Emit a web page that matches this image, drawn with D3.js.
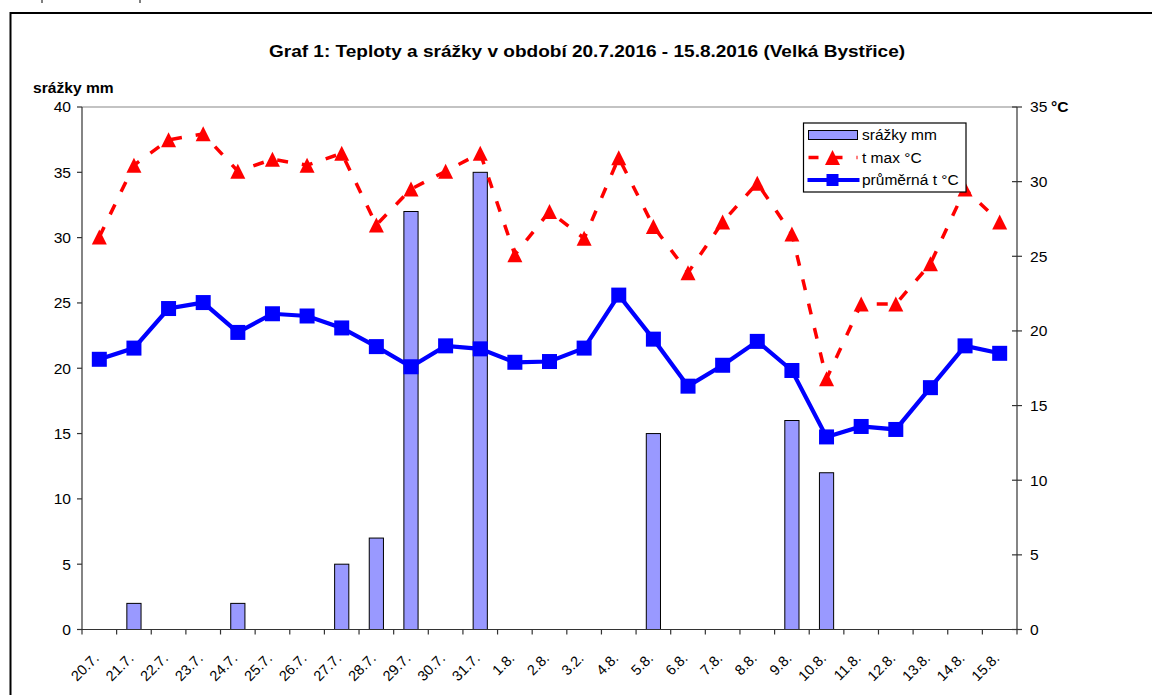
<!DOCTYPE html>
<html>
<head>
<meta charset="utf-8">
<script src="https://cdn.jsdelivr.net/npm/d3@7"></script>
<style>
  body { margin: 0; background: #fff; }
  svg { display: block; font-family: "Liberation Sans", Arial, sans-serif; }
</style>
</head>
<body>
<script>
// data
const days = ["20.7.", "21.7.", "22.7.", "23.7.", "24.7.", "25.7.", "26.7.", "27.7.", "28.7.",
  "29.7.", "30.7.", "31.7.", "1.8.", "2.8.", "3.2.", "4.8.", "5.8.", "6.8.", "7.8.", "8.8.",
  "9.8.", "10.8.", "11.8.", "12.8.", "13.8.", "14.8.", "15.8."];
const srazky = [0, 2, 0, 0, 2, 0, 0, 5, 7, 32, 0, 35, 0, 0, 0, 0, 15, 0, 0, 0, 16, 12, 0, 0, 0, 0, 0];
const tMax = [26.3, 31.1, 32.8, 33.2, 30.7, 31.5, 31.1, 31.9, 27.1, 29.5, 30.7, 31.9, 25.1, 28.0,
  26.2, 31.6, 27.0, 23.9, 27.3, 29.9, 26.5, 16.8, 21.8, 21.8, 24.5, 29.5, 27.3];
const tAvg = [18.1, 18.85, 21.5, 21.9, 19.9, 21.15, 21.0, 20.2, 18.95, 17.6, 19.0, 18.8, 17.9, 17.95,
  18.85, 22.4, 19.45, 16.3, 17.7, 19.3, 17.35, 12.9, 13.6, 13.4, 16.2, 19.0, 18.5];
const leftTicks = [0, 5, 10, 15, 20, 25, 30, 35, 40];
const rightTicks = [0, 5, 10, 15, 20, 25, 30, 35];
const seriesNames = ["srážky mm", "t max °C", "průměrná t °C"];

const width = 1152, height = 695;
const plot = {left: 82, right: 1017, top: 107, bottom: 629.5};
const barFill = "#9999ff", red = "#ff0000", blue = "#0000ff";

const svg = d3.select("body").append("svg")
  .attr("width", width)
  .attr("height", height);

const x = d3.scaleBand().domain(days).range([plot.left, plot.right]);
const yLeft = d3.scaleLinear().domain([0, 40]).range([plot.bottom, plot.top]);
const yRight = d3.scaleLinear().domain([0, 35]).range([plot.bottom, plot.top]);
const cx = d => x(d) + x.bandwidth() / 2;

// text that is a little wider than normal, like the original
function label(g, txt, px, py, opts) {
  const t = g.append("text")
    .attr("transform", `translate(${px},${py}) scale(${opts.sx || 1},1)`)
    .attr("font-size", opts.size)
    .attr("font-weight", opts.bold ? "bold" : null)
    .attr("text-anchor", opts.anchor || "start")
    .attr("dy", opts.dy || null)
    .text(txt);
  return t;
}

// stray marks above the frame (tails of the page text)
svg.append("g").attr("stroke", "#555").attr("stroke-width", 1.5)
  .selectAll("line").data([42, 140]).join("line")
  .attr("x1", d => d).attr("x2", d => d).attr("y1", 0).attr("y2", 3);

// outer frame
svg.append("rect")
  .attr("x", 10.5).attr("y", 13)
  .attr("width", 1160).attr("height", 700)
  .attr("fill", "none").attr("stroke", "#000").attr("stroke-width", 2);

label(svg, "Graf 1: Teploty a srážky v období 20.7.2016 - 15.8.2016 (Velká Bystřice)", 587, 57,
  {size: 17, bold: true, anchor: "middle", sx: 1.12});
label(svg, "srážky mm", 33, 93, {size: 15, bold: true, sx: 1.04});

// plot top border
svg.append("line")
  .attr("x1", plot.left).attr("x2", plot.right)
  .attr("y1", plot.top).attr("y2", plot.top)
  .attr("stroke", "#888").attr("stroke-width", 1.2);

// bars
const barW = x.bandwidth() * 0.41;
svg.append("g").selectAll("rect")
  .data(days.map((d, i) => ({day: d, v: srazky[i]})).filter(d => d.v > 0))
  .join("rect")
  .attr("x", d => cx(d.day) - barW / 2)
  .attr("y", d => yLeft(d.v))
  .attr("width", barW)
  .attr("height", d => yLeft(0) - yLeft(d.v))
  .attr("fill", barFill)
  .attr("stroke", "#000")
  .attr("stroke-width", 1);

// axes
const axisG = svg.append("g").attr("stroke", "#333").attr("stroke-width", 1.2);
axisG.append("line").attr("x1", plot.left).attr("x2", plot.left).attr("y1", plot.top).attr("y2", plot.bottom);
axisG.append("line").attr("x1", plot.right).attr("x2", plot.right).attr("y1", plot.top).attr("y2", plot.bottom);
axisG.append("line").attr("x1", plot.left).attr("x2", plot.right).attr("y1", plot.bottom).attr("y2", plot.bottom);

axisG.selectAll("line.lt").data(leftTicks).join("line").attr("class", "lt")
  .attr("x1", plot.left - 5).attr("x2", plot.left)
  .attr("y1", d => yLeft(d)).attr("y2", d => yLeft(d));
axisG.selectAll("line.rt").data(rightTicks).join("line").attr("class", "rt")
  .attr("x1", plot.right - 5).attr("x2", plot.right + 5)
  .attr("y1", d => yRight(d)).attr("y2", d => yRight(d));
axisG.selectAll("line.xt").data(d3.range(days.length + 1)).join("line").attr("class", "xt")
  .attr("x1", i => plot.left + i * x.bandwidth()).attr("x2", i => plot.left + i * x.bandwidth())
  .attr("y1", plot.bottom).attr("y2", plot.bottom + 5);

const tickText = svg.append("g").attr("fill", "#000");
leftTicks.forEach(v => label(tickText, v, 71, yLeft(v), {size: 15, anchor: "end", dy: "0.36em", sx: 1.04}));
rightTicks.forEach(v => label(tickText, v, 1030, yRight(v), {size: 15, dy: "0.36em", sx: 1.04}));
label(tickText, "°C", 1051, yRight(35), {size: 15, bold: true, dy: "0.36em", sx: 1.04});

svg.append("g").selectAll("text")
  .data(days)
  .join("text")
  .attr("transform", d => `translate(${cx(d) - 3},${plot.bottom + 26}) rotate(-45)`)
  .attr("text-anchor", "end")
  .attr("dy", "0.35em")
  .attr("font-size", 14.5)
  .text(d => d);

// lines
const maxLine = d3.line().x((d, i) => cx(days[i])).y(d => yRight(d));
const tri = "M0,-7.5L7.5,7.5L-7.5,7.5Z";

svg.append("path")
  .attr("d", maxLine(tMax))
  .attr("fill", "none")
  .attr("stroke", red)
  .attr("stroke-width", 3.5)
  .attr("stroke-dasharray", "11,14");
svg.append("g").selectAll("path")
  .data(tMax)
  .join("path")
  .attr("transform", (d, i) => `translate(${cx(days[i])},${yRight(d)})`)
  .attr("d", tri)
  .attr("fill", red);

svg.append("path")
  .attr("d", maxLine(tAvg))
  .attr("fill", "none")
  .attr("stroke", blue)
  .attr("stroke-width", 4.2);
svg.append("g").selectAll("rect")
  .data(tAvg)
  .join("rect")
  .attr("x", (d, i) => cx(days[i]) - 7.5)
  .attr("y", d => yRight(d) - 7.5)
  .attr("width", 15)
  .attr("height", 15)
  .attr("fill", blue);

// legend
const lg = svg.append("g").attr("transform", "translate(803.5,123)");
lg.append("rect").attr("width", 162.5).attr("height", 69)
  .attr("fill", "#fff").attr("stroke", "#000").attr("stroke-width", 1.2);
const rowY = [12, 34.5, 57];
lg.append("rect").attr("x", 5).attr("y", rowY[0] - 4.5).attr("width", 49).attr("height", 9)
  .attr("fill", barFill).attr("stroke", "#000").attr("stroke-width", 1);
lg.append("line").attr("x1", 5).attr("x2", 54).attr("y1", rowY[1]).attr("y2", rowY[1])
  .attr("stroke", red).attr("stroke-width", 3.5).attr("stroke-dasharray", "10,14");
lg.append("path").attr("transform", `translate(29,${rowY[1]})`).attr("d", tri).attr("fill", red);
lg.append("line").attr("x1", 4).attr("x2", 56).attr("y1", rowY[2]).attr("y2", rowY[2])
  .attr("stroke", blue).attr("stroke-width", 4.2);
lg.append("rect").attr("x", 29 - 6).attr("y", rowY[2] - 6).attr("width", 12).attr("height", 12).attr("fill", blue);
seriesNames.forEach((n, i) => label(lg, n, 58.5, rowY[i], {size: 14.5, dy: "0.36em", sx: 1.07}));
</script>
</body>
</html>
